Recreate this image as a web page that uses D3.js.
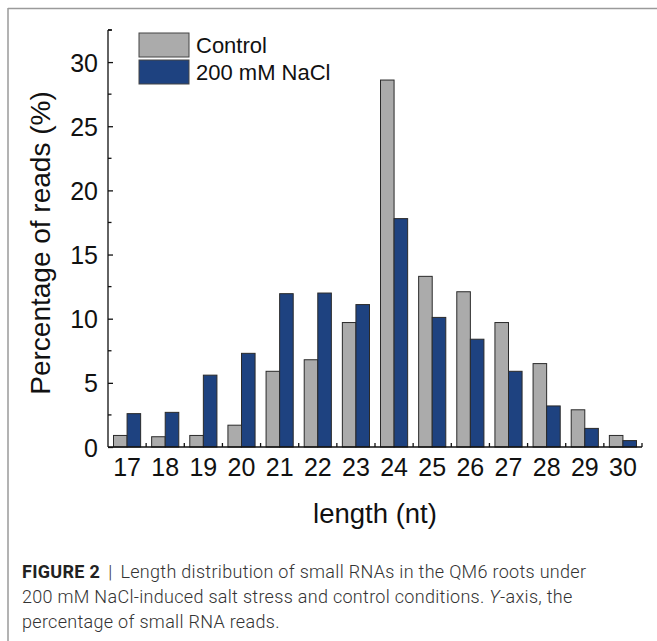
<!DOCTYPE html>
<html>
<head>
<meta charset="utf-8">
<script src="https://cdn.jsdelivr.net/npm/d3@7"></script>
<style>
  body { margin: 0; background: #fff; }
  svg { font-family: "Liberation Sans", Arial, sans-serif; }
</style>
</head>
<body>
<svg id="chart" width="657" height="641"></svg>
<script>
// data
const lengths = ["17", "18", "19", "20", "21", "22", "23", "24", "25", "26", "27", "28", "29", "30"]
const controlValues = [0.9, 0.8, 0.9, 1.7, 5.9, 6.8, 9.7, 28.6, 13.3, 12.1, 9.7, 6.5, 2.9, 0.9]
const naclValues = [2.6, 2.7, 5.6, 7.3, 11.95, 12.0, 11.1, 17.8, 10.1, 8.4, 5.9, 3.2, 1.45, 0.5]
const seriesNames = ["Control", "200 mM NaCl"]
const yTicks = [0, 5, 10, 15, 20, 25, 30]
const yMinorTicks = [2.5, 7.5, 12.5, 17.5, 22.5, 27.5, 32.5]
const captionLines = [
    "Length distribution of small RNAs in the QM6 roots under",
    "200 mM NaCl-induced salt stress and control conditions. ",
    "percentage of small RNA reads."
]

const colors = ["#ababab", "#1e4280"]

const svg = d3.select("#chart")

// outer frame (top and left edges only)
svg.append("line").attr("x1", 8).attr("x2", 657).attr("y1", 8.5).attr("y2", 8.5)
    .attr("stroke", "#9a9a9a").attr("stroke-width", 1.5)
svg.append("line").attr("x1", 8).attr("x2", 8).attr("y1", 8).attr("y2", 641)
    .attr("stroke", "#9a9a9a").attr("stroke-width", 1.5)

const margin = { left: 108, right: 642, top: 30, bottom: 447 }

const x = d3.scaleBand()
    .domain(lengths)
    .range([margin.left, margin.right])
    .paddingInner(0)
    .paddingOuter(0)

const xInner = d3.scaleBand()
    .domain([0, 1])
    .range([5.5, x.bandwidth() - 5.5])

const y = d3.scaleLinear()
    .domain([0, 32.5])
    .range([margin.bottom, margin.top])

const g = svg.append("g")

// BARS ---------------------------------------------------------------
const rows = lengths.map((l, i) => ({ len: l, vals: [controlValues[i], naclValues[i]] }))

rows.forEach(r => {
    r.vals.forEach((v, j) => {
        g.append("rect")
            .attr("x", x(r.len) + xInner(j))
            .attr("y", y(v))
            .attr("width", xInner.bandwidth())
            .attr("height", y(0) - y(v))
            .attr("fill", colors[j])
            .attr("stroke", "#2a2a2a")
            .attr("stroke-width", 1)
    })
})

// AXES ---------------------------------------------------------------
const yAxis = g.append("g")
    .attr("transform", `translate(${margin.left},0)`)
    .call(d3.axisRight(y).tickValues(yTicks).tickSize(5).tickFormat(d3.format("d")))
yAxis.select(".domain").attr("d", `M0,${y(32.5)}H4M0,${y(32.5)}V${y(0)}`)
yAxis.selectAll(".tick text")
    .attr("x", -10)
    .attr("text-anchor", "end")
    .attr("font-size", 25)
    .attr("font-family", "Liberation Sans, Arial, sans-serif")
    .attr("fill", "#111")
    .attr("dy", "0.36em")

yAxis.selectAll(".minor")
    .data(yMinorTicks)
    .enter().append("line")
    .attr("class", "minor")
    .attr("x1", 0).attr("x2", 3.5)
    .attr("y1", d => y(d)).attr("y2", d => y(d))
    .attr("stroke", "#000")

yAxis.selectAll("path, line").attr("stroke", "#111").attr("stroke-width", 1.3)

const xAxis = g.append("g")
    .attr("transform", `translate(0,${margin.bottom})`)
    .call(d3.axisBottom(x).tickSize(0).tickPadding(12))
xAxis.select(".domain").attr("d", `M${margin.left},0H${margin.right}`)
    .attr("stroke", "#111").attr("stroke-width", 1.5)
xAxis.selectAll(".tick text")
    .attr("font-size", 25)
    .attr("font-family", "Liberation Sans, Arial, sans-serif")
    .attr("fill", "#111")
    .attr("dy", "0.68em")

// inward ticks on the category boundaries
xAxis.selectAll(".bnd")
    .data(lengths.slice(1).concat(["end"]))
    .enter().append("line")
    .attr("class", "bnd")
    .attr("x1", d => d === "end" ? margin.right : x(d))
    .attr("x2", d => d === "end" ? margin.right : x(d))
    .attr("y1", 0).attr("y2", -4)
    .attr("stroke", "#111").attr("stroke-width", 1.3)

// axis titles
svg.append("text")
    .attr("x", 375)
    .attr("y", 523)
    .attr("text-anchor", "middle")
    .attr("font-size", 27.5)
    .attr("fill", "#111")
    .text("length (nt)")

svg.append("text")
    .attr("transform", `translate(50,243) rotate(-90)`)
    .attr("text-anchor", "middle")
    .attr("font-size", 28)
    .attr("fill", "#111")
    .text("Percentage of reads (%)")

// LEGEND -------------------------------------------------------------
const legend = svg.append("g").attr("transform", "translate(139,33)")
seriesNames.forEach((name, i) => {
    legend.append("rect")
        .attr("x", 0).attr("y", i * 27)
        .attr("width", 50).attr("height", 24)
        .attr("fill", colors[i])
        .attr("stroke", "#444").attr("stroke-width", 1)
    legend.append("text")
        .attr("x", 57).attr("y", i * 27 + 12)
        .attr("dy", "0.36em")
        .attr("font-size", 22)
        .attr("fill", "#111")
        .text(name)
})

// CAPTION ------------------------------------------------------------
const cap = svg.append("g")
    .attr("font-family", "Roboto, Liberation Sans, Arial, sans-serif")
    .attr("font-weight", 300)
    .attr("font-size", 18)
    .attr("letter-spacing", 0.3)
    .attr("fill", "#333")

const line1 = cap.append("text").attr("x", 22).attr("y", 578)
line1.append("tspan").attr("font-weight", "bold").attr("fill", "#222").text("FIGURE 2")
line1.append("tspan").attr("dx", 8).text("|")
line1.append("tspan").attr("dx", 8).text(captionLines[0])

const line2 = cap.append("text").attr("x", 22).attr("y", 603)
line2.append("tspan").text(captionLines[1])
line2.append("tspan").attr("font-style", "italic").text("Y")
line2.append("tspan").text("-axis, the")

cap.append("text").attr("x", 22).attr("y", 628).text(captionLines[2])
</script>
</body>
</html>
